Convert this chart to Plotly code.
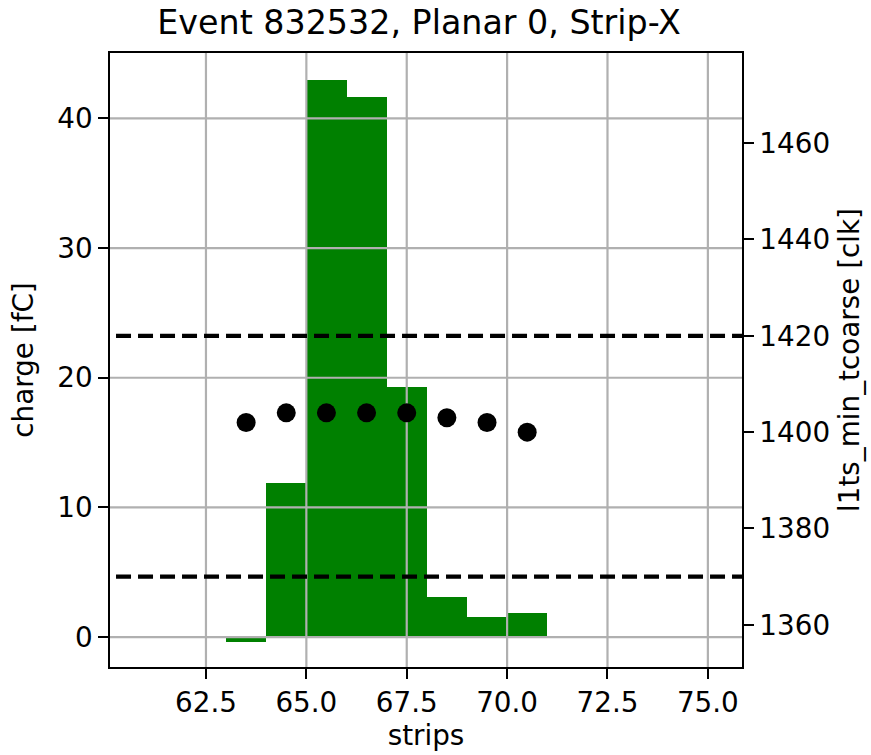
import plotly.graph_objects as go

# ---- data ----
strip_centers = [63.5, 64.5, 65.5, 66.5, 67.5, 68.5, 69.5, 70.5]
charge_fC = [-0.38, 11.9, 43.0, 41.65, 19.3, 3.1, 1.58, 1.89]
tcoarse_clk = [1402, 1404, 1404, 1404, 1404, 1403, 1402, 1400]
threshold_lines = [1370, 1420]

x_ticks = [62.5, 65.0, 67.5, 70.0, 72.5, 75.0]
x_ticklabels = ["62.5", "65.0", "67.5", "70.0", "72.5", "75.0"]
y_left_ticks = [0, 10, 20, 30, 40]
y_right_ticks = [1360, 1380, 1400, 1420, 1440, 1460]

x_range = [60.11, 75.85]
y_left_range = [-2.31, 45.05]
y_right_range = [1351.25, 1478.7]
line_x_start = 60.26

FONT = "DejaVu Sans"
GRID = "#b0b0b0"
TXT = "black"
TICK_SIZE = 27.8
TITLE_SIZE = 33.3

fig = go.Figure()

# histogram-like bars
fig.add_trace(go.Bar(
    x=strip_centers, y=charge_fC, width=1.0,
    marker=dict(color="#008000", line=dict(width=0)),
    xaxis="x", yaxis="y", showlegend=False, hoverinfo="skip",
))

# gridlines (drawn above bars like matplotlib)
for xv in x_ticks:
    fig.add_trace(go.Scatter(
        x=[xv, xv], y=y_left_range, mode="lines",
        line=dict(color=GRID, width=2.2), xaxis="x", yaxis="y",
        showlegend=False, hoverinfo="skip",
    ))
for yv in y_left_ticks:
    fig.add_trace(go.Scatter(
        x=x_range, y=[yv, yv], mode="lines",
        line=dict(color=GRID, width=2.2), xaxis="x", yaxis="y",
        showlegend=False, hoverinfo="skip",
    ))

# dashed threshold lines (right axis)
for tv in threshold_lines:
    fig.add_trace(go.Scatter(
        x=[line_x_start, x_range[1]], y=[tv, tv], mode="lines",
        line=dict(color="black", width=4.2, dash="15px,7px"),
        xaxis="x", yaxis="y2", showlegend=False, hoverinfo="skip",
    ))

# tcoarse dots (right axis)
fig.add_trace(go.Scatter(
    x=strip_centers, y=tcoarse_clk, mode="markers",
    marker=dict(color="black", size=19, line=dict(width=0)),
    xaxis="x", yaxis="y2", showlegend=False, hoverinfo="skip",
))

axis_common = dict(
    showgrid=False, zeroline=False, showline=True, linecolor="black",
    linewidth=2.2, ticks="outside", ticklen=9.7, tickwidth=2.2,
    tickcolor="black", tickfont=dict(family=FONT, size=TICK_SIZE, color=TXT),
)

fig.update_layout(
    width=871, height=755,
    margin=dict(l=110, r=129, t=53, b=88),
    plot_bgcolor="white", paper_bgcolor="white",
    font=dict(family=FONT, color=TXT),
    bargap=0,
    title=dict(text="Event 832532, Planar 0, Strip-X", x=426 / 871, xref="paper",
               xanchor="center", y=1 - 22 / 755, yref="container", yanchor="middle",
               font=dict(family=FONT, size=TITLE_SIZE, color=TXT)),
    xaxis=dict(range=x_range, tickvals=x_ticks, ticktext=x_ticklabels,
               mirror=True,
               title=dict(text="strips", font=dict(family=FONT, size=TICK_SIZE, color=TXT), standoff=4),
               **axis_common),
    yaxis=dict(range=y_left_range, tickvals=y_left_ticks,
               title=dict(text="charge [fC]", font=dict(family=FONT, size=TICK_SIZE, color=TXT), standoff=16),
               **axis_common),
    yaxis2=dict(range=y_right_range, tickvals=y_right_ticks, overlaying="y", side="right",
                title=dict(text="l1ts_min_tcoarse [clk]", font=dict(family=FONT, size=TICK_SIZE, color=TXT), standoff=10),
                **axis_common),
)

fig.write_html("out.html")
